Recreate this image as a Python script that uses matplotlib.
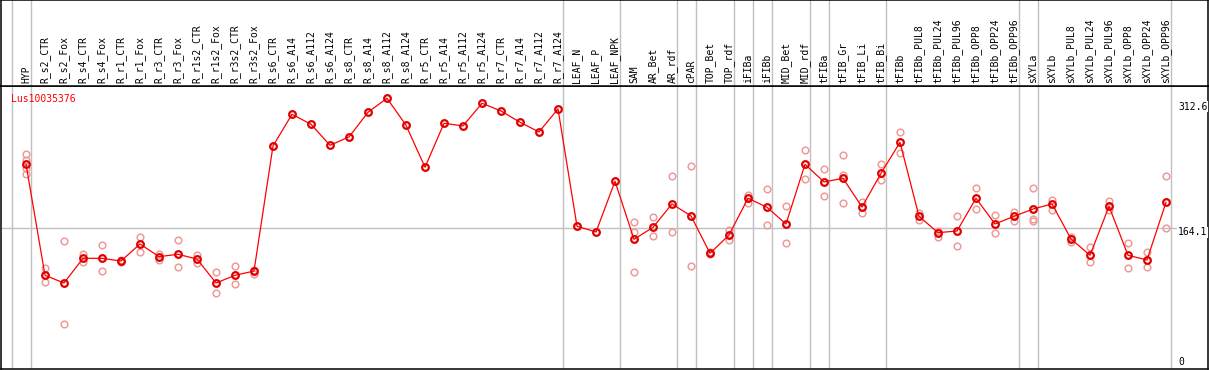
import matplotlib
matplotlib.use('Agg')
import matplotlib.pyplot as plt
import matplotlib.transforms as mtransforms

# gene expression profile, Lus10035376
gene = 'Lus10035376'

names = ['HYP', 'R_s2_CTR', 'R_s2_Fox', 'R_s4_CTR', 'R_s4_Fox', 'R_r1_CTR', 'R_r1_Fox',
         'R_r3_CTR', 'R_r3_Fox', 'R_r1s2_CTR', 'R_r1s2_Fox', 'R_r3s2_CTR', 'R_r3s2_Fox',
         'R_s6_CTR', 'R_s6_A14', 'R_s6_A112', 'R_s6_A124', 'R_s8_CTR', 'R_s8_A14',
         'R_s8_A112', 'R_s8_A124', 'R_r5_CTR', 'R_r5_A14', 'R_r5_A112', 'R_r5_A124',
         'R_r7_CTR', 'R_r7_A14', 'R_r7_A112', 'R_r7_A124', 'LEAF_N', 'LEAF_P', 'LEAF_NPK',
         'SAM', 'AR_Bet', 'AR_rdf', 'cPAR', 'TOP_Bet', 'TOP_rdf', 'iFIBa', 'iFIBb',
         'MID_Bet', 'MID_rdf', 'tFIBa', 'tFIB_Gr', 'tFIB_Li', 'tFIB_Bi', 'tFIBb',
         'tFIBb_PUL8', 'tFIBb_PUL24', 'tFIBb_PUL96', 'tFIBb_OPP8', 'tFIBb_OPP24',
         'tFIBb_OPP96', 'sXYLa', 'sXYLb', 'sXYLb_PUL8', 'sXYLb_PUL24', 'sXYLb_PUL96',
         'sXYLb_OPP8', 'sXYLb_OPP24', 'sXYLb_OPP96']

means = [237.2, 110.4, 101.6, 129.8, 129.8, 126.7, 146.2, 131.7, 134.4, 129.0, 101.6,
         110.4, 115.3, 258.1, 294.3, 282.9, 258.9, 268.4, 296.6, 312.6, 281.8, 233.8,
         284.0, 281.0, 306.9, 298.1, 285.2, 274.1, 300.4, 166.4, 159.9, 217.8, 151.5,
         165.2, 191.9, 178.2, 135.5, 156.4, 198.4, 188.1, 169.0, 237.2, 217.0, 221.2,
         188.4, 226.9, 262.3, 177.8, 159.1, 161.0, 198.4, 169.0, 177.8, 186.1, 191.9,
         151.9, 133.3, 189.2, 133.3, 127.9, 193.8]

reps = [[248.6, 242.1, 233.0, 225.8], [119.1, 103.1], [149.6, 54.8], [134.7, 125.9],
        [144.7, 115.0], [127.9, 125.6], [154.2, 136.7], [134.4, 127.5], [150.7, 119.6],
        [133.6, 124.1], [113.8, 89.9], [121.0, 100.1], [116.5, 111.9],
        [], [], [], [], [], [], [], [], [], [], [], [], [], [], [], [], [], [], [],
        [171.0, 159.5, 113.8], [176.7, 155.0], [223.8, 159.5], [235.3, 120.7],
        [136.5, 134.5], [162.2, 150.4], [202.5, 193.3], [208.6, 167.5], [189.2, 147.0],
        [253.2, 220.1], [231.5, 200.7], [247.8, 225.0, 193.0], [194.1, 181.2],
        [237.5, 218.9], [273.8, 250.5], [181.9, 173.6], [161.4, 154.5], [177.8, 143.5],
        [209.8, 185.8], [178.9, 158.7], [182.7, 172.8], [209.8, 174.4, 172.8],
        [196.4, 185.3], [154.5, 148.1], [142.4, 125.3], [195.3, 184.7], [147.3, 118.8],
        [136.7, 119.6], [223.5, 164.1]]

# group separators come after these columns
group_ends = [-1, 0, 28, 31, 34, 35, 37, 38, 39, 41, 42, 45, 52, 53, 60]

ref_value = 164.1
right_labels = ['312.6', '164.1', '0']
right_values = [312.6, 164.1, 0]

W, H = 1209, 370
fig = plt.figure(figsize=(W / 100, H / 100), dpi=100)
mono = 'DejaVu Sans Mono'
grey = '#c0c0c0'

ax = fig.add_axes([1 / W, 1 / H, 1207 / W, 283 / H])
axh = fig.add_axes([1 / W, 284 / H, 1207 / W, 86 / H])

x = list(range(len(names)))
xlim = (-1.316, 62.21)
for a in (ax, axh):
    a.set_xlim(*xlim)
    a.set_xticks([])
    a.set_yticks([])
    for s in a.spines.values():
        s.set_color('black')
        s.set_linewidth(1.1)
    for g in group_ends:
        a.axvline(g + 0.25, color=grey, lw=1.0, zorder=0)
ax.set_ylim(3.4, 326.6)
axh.set_ylim(0, 1)

ax.axhline(ref_value, color=grey, lw=1.0, zorder=0)

# replicate measurements
rx, ry = [], []
for i, r in enumerate(reps):
    for v in r:
        rx.append(i)
        ry.append(v)
ax.plot(rx, ry, 'o', ms=4.8, mfc='none', mec='#ef9a9a', mew=1.1, zorder=2)

# mean profile
ax.plot(x, means, '-', color='#ff0000', lw=0.9, zorder=3)
ax.plot(x, means, 'o', ms=4.8, mfc='none', mec='#e00000', mew=1.6, zorder=4)

ax.text(0.008, 0.955, gene, transform=ax.transAxes, color='#ff0000', fontsize=7,
        family=mono, va='center', ha='left')

offsets = [-8.7, -4, 9.6]
for lbl, v, off in zip(right_labels, right_values, offsets):
    ax.annotate(lbl, (60.63, v), xytext=(0, off), textcoords='offset pixels',
                fontsize=7, family=mono, va='center', ha='left',
                annotation_clip=False,
                bbox=dict(boxstyle='square,pad=0.05', fc='white', ec='none'))

trans = mtransforms.blended_transform_factory(axh.transData, axh.transAxes)
for i, n in enumerate(names):
    axh.text(i, 0.03, n, transform=trans, rotation=90, ha='center', va='bottom',
             fontsize=7, family=mono)

fig.savefig('out.png', dpi=100)
